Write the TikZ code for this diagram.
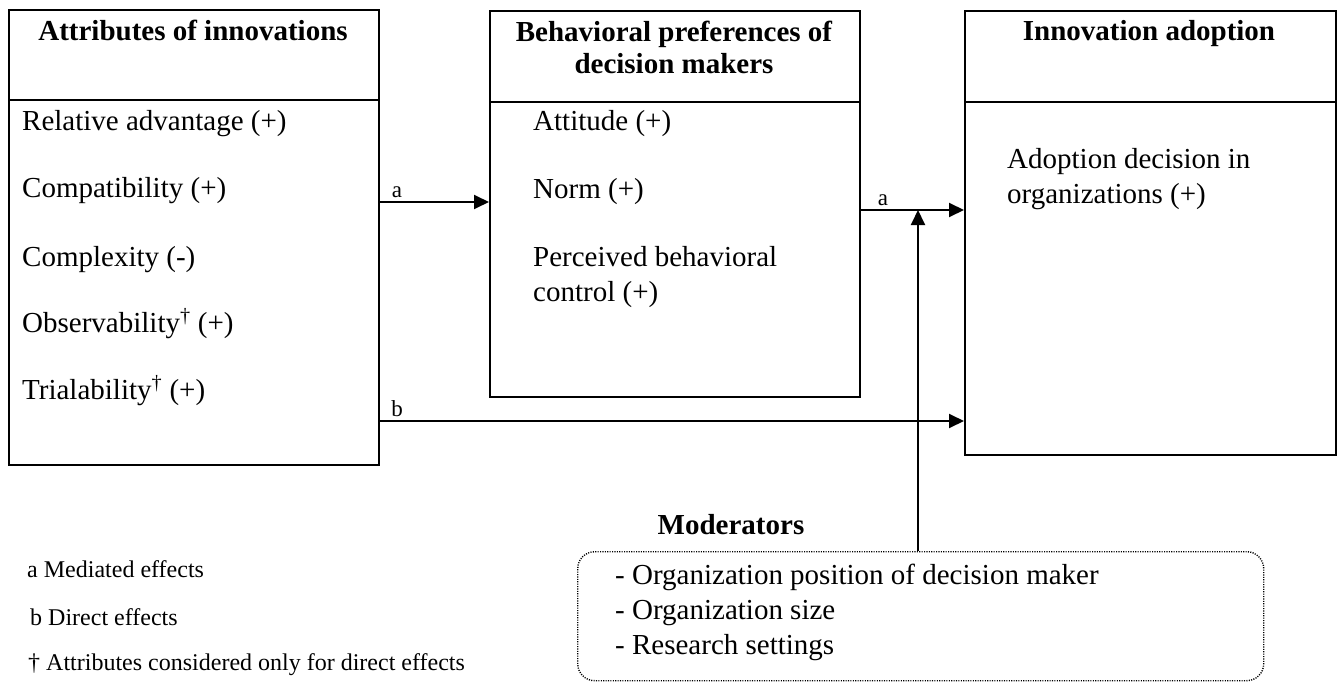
\documentclass[tikz,border=0pt]{standalone}
\usepackage{fontspec}
\setmainfont{Liberation Serif}
\usetikzlibrary{arrows.meta,calc}
\begin{document}
\begin{tikzpicture}[x=1pt,y=-1pt,
  box/.style={draw, line width=1.9pt, anchor=north west, inner sep=0pt},
  hdr/.style={font=\fontsize{29}{33}\selectfont\bfseries, anchor=base, inner sep=0pt},
  item/.style={font=\fontsize{29}{35}\selectfont, anchor=base west, inner sep=0pt},
  lbl/.style={font=\fontsize{23}{26}\selectfont, anchor=base, inner sep=0pt},
  leg/.style={font=\fontsize{24}{28}\selectfont, anchor=base west, inner sep=0pt},
  arr/.style={line width=1.9pt, -{Triangle[length=15pt,width=14pt]}},
  divider/.style={line width=1.9pt},
  modbox/.style={draw, line width=1.4pt, dash pattern=on 1.1pt off 1.3pt, rounded corners=17pt, anchor=north west, inner sep=0pt}]
\useasboundingbox (0,0) rectangle (1342,682);

% boxes
\node[box, minimum width=370pt, minimum height=455pt] (attr) at (8,9) {};
\node[box, minimum width=370pt, minimum height=386pt] (beh) at (489,10) {};
\node[box, minimum width=371pt, minimum height=444pt] (adopt) at (964,10) {};

% header dividers
\draw[divider] ($(attr.north west)+(0,91)$) -- ($(attr.north east)+(0,91)$);
\draw[divider] ($(beh.north west)+(0,92)$) -- ($(beh.north east)+(0,92)$);
\draw[divider] ($(adopt.north west)+(0,92)$) -- ($(adopt.north east)+(0,92)$);

% headers
\node[hdr] (attrh) at (193,41) {Attributes of innovations};
\node[hdr] (behh1) at (674,42) {Behavioral preferences of};
\node[hdr] (behh2) at (674,74) {decision makers};
\node[hdr] (adopth) at (1149,41) {Innovation adoption};

% items of attributes
\node[item] (i1) at (22,131) {Relative advantage (+)};
\node[item] (i2) at (22,197) {Compatibility (+)};
\node[item] (i3) at (22,266) {Complexity (-)};
\node[item] (i4) at (22,332) {Observability\textsuperscript{†} (+)};
\node[item] (i5) at (22,399) {Trialability\textsuperscript{†} (+)};

% items of behavioral preferences
\node[item] (b1) at (533,131) {Attitude (+)};
\node[item] (b2) at (533,199) {Norm (+)};
\node[item] (b3) at (533,266) {Perceived behavioral};
\node[item] (b4) at (533,301) {control (+)};

% items of adoption
\node[item] (d1) at (1007,169) {Adoption decision in};
\node[item] (d2) at (1007,204) {organizations (+)};

% connectors
\coordinate (ya) at (0,202);
\coordinate (yc) at (0,210);
\coordinate (yb) at (0,421);
\coordinate (vx) at (918,0);
\draw[arr] (attr.east |- ya) -- (beh.west |- ya);
\draw[arr] (beh.east |- yc) -- (adopt.west |- yc);
\draw[arr] (attr.east |- yb) -- (adopt.west |- yb);
\node[lbl] (la1) at (397,197) {a};
\node[lbl] (la2) at (883,205) {a};
\node[lbl] (lb) at (397,416) {b};

% moderators
\node[hdr] (modh) at (731,534) {Moderators};
\node[modbox, minimum width=686pt, minimum height=129pt] (mod) at (577,551) {};
\draw[arr] (mod.north -| vx) -- (vx |- yc);
\node[item] (m1) at (615,584) {- Organization position of decision maker};
\node[item] (m2) at (615,619) {- Organization size};
\node[item] (m3) at (615,654) {- Research settings};

% legend
\node[leg] (l1) at (27,577) {a Mediated effects};
\node[leg] (l2) at (30,625) {b Direct effects};
\node[leg] (l3) at (28,670) {† Attributes considered only for direct effects};
\end{tikzpicture}
\end{document}
